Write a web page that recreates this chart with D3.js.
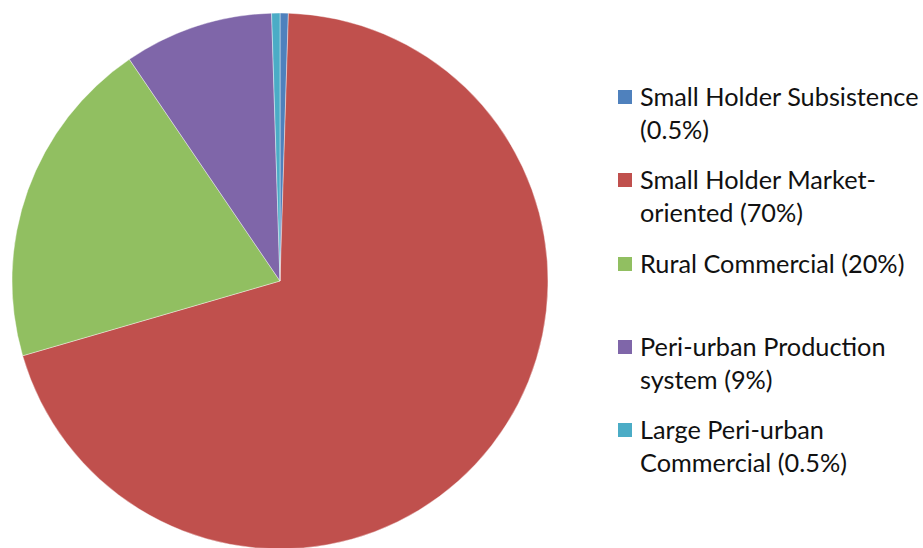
<!DOCTYPE html>
<html><head><meta charset="utf-8">
<script src="https://cdn.jsdelivr.net/npm/d3@7"></script>
<style>body{margin:0;background:#fff}svg{display:block}</style>
</head><body>
<svg id="c" width="923" height="548"></svg>
<script>
const categories = ["Small Holder Subsistence", "Small Holder Market-oriented", "Rural Commercial", "Peri-urban Production system", "Large Peri-urban Commercial"];
const values = [0.5, 70, 20, 9, 0.5];
const legendLines = [["Small Holder Subsistence", "(0.5%)"], ["Small Holder Market-", "oriented (70%)"], ["Rural Commercial (20%)"], ["Peri-urban Production", "system (9%)"], ["Large Peri-urban", "Commercial (0.5%)"]];
const colors = ["#4F81BD", "#C0504D", "#91BF61", "#7F66A9", "#4BACC6"];

const svg = d3.select("#c");
const cx = 280, cy = 281, r = 268;
const pie = d3.pie().sort(null).value(d => d)(values);
const arc = d3.arc().innerRadius(0).outerRadius(r);
const g = svg.append("g").attr("transform", `translate(${cx},${cy})`);
g.selectAll("path").data(pie).enter().append("path")
  .attr("d", arc).attr("fill", (d, i) => colors[i])
  .attr("stroke", "#fff").attr("stroke-width", 0.4);

const legendY = [97, 180, 264, 347, 430];
const lg = svg.append("g");
categories.forEach((c, i) => {
  const y = legendY[i];
  lg.append("rect").attr("x", 618).attr("y", y - 7).attr("width", 14).attr("height", 14).attr("fill", colors[i]);
  const t = lg.append("text").attr("x", 640).attr("y", y).attr("font-family", "Lato, 'Open Sans', sans-serif")
    .attr("font-size", 25.3).attr("fill", "#111");
  legendLines[i].forEach((l, j) => {
    t.append("tspan").attr("x", 640).attr("y", y + j * 33).attr("dy", "0.35em").text(l);
  });
});
</script>
</body></html>
